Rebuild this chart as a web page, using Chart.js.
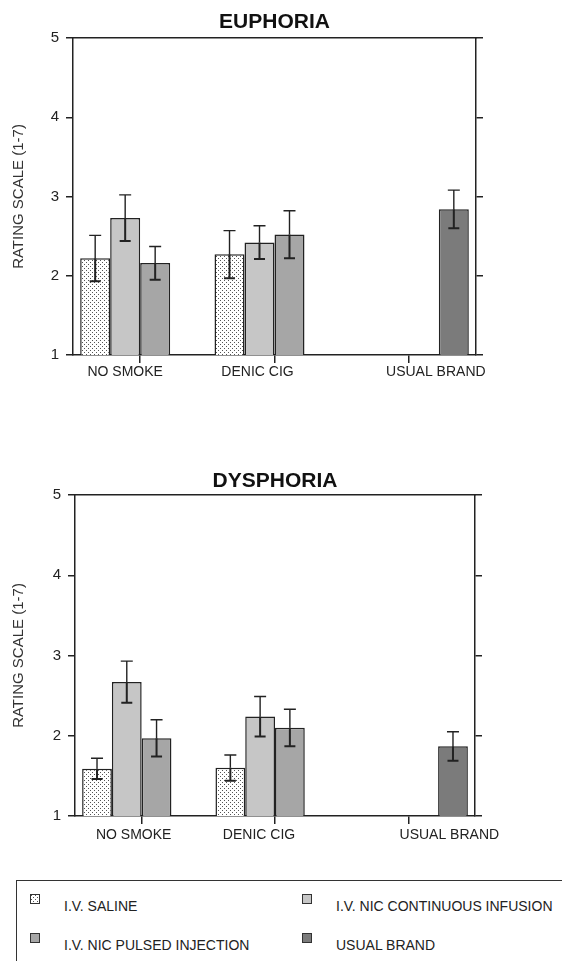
<!DOCTYPE html>
<html>
<head>
<meta charset="utf-8">
<script src="https://cdn.jsdelivr.net/npm/chart.js@4.4.0/dist/chart.umd.min.js"></script>
<style>
  body {
    margin: 0;
    background: #fff;
    width: 562px;
    height: 961px;
    position: relative;
    overflow: hidden;
    font-family: "Liberation Sans", Arial, sans-serif;
  }
  .panel { position: absolute; left: 0; width: 562px; height: 400px; }
  #legend {
    position: absolute;
    left: 16px;
    top: 880px;
    width: 600px;
    height: 120px;
    border-left: 1.5px solid #333;
    border-top: 1.5px solid #333;
  }
  .swatch {
    position: absolute;
    width: 8px;
    height: 8px;
    border: 1.5px solid #333;
  }
  .legend-text {
    position: absolute;
    font-size: 14px;
    color: #222;
    white-space: nowrap;
    line-height: 16px;
  }
</style>
</head>
<body>
<div class="panel" style="top:0"><canvas id="euphoriaChart" width="562" height="400"></canvas></div>
<div class="panel" style="top:460px"><canvas id="dysphoriaChart" width="562" height="400"></canvas></div>
<div id="legend"></div>

<script>
// ---- data ----
const categories = ['NO SMOKE', 'DENIC CIG', 'USUAL BRAND'];
const seriesNames = ['I.V. SALINE', 'I.V. NIC CONTINUOUS INFUSION', 'I.V. NIC PULSED INJECTION', 'USUAL BRAND'];
const yTicks = [1, 2, 3, 4, 5];

// euphoria means and SEM
const euphoriaSaline     = [2.22, 2.27, null];
const euphoriaContinuous = [2.73, 2.42, null];
const euphoriaPulsed     = [2.16, 2.52, null];
const euphoriaUsual      = [null, null, 2.84];
const euphoriaSalineErr     = [0.29, 0.30, null];
const euphoriaContinuousErr = [0.29, 0.21, null];
const euphoriaPulsedErr     = [0.21, 0.30, null];
const euphoriaUsualErr      = [null, null, 0.24];

// dysphoria means and SEM
const dysphoriaSaline     = [1.59, 1.60, null];
const dysphoriaContinuous = [2.67, 2.24, null];
const dysphoriaPulsed     = [1.97, 2.10, null];
const dysphoriaUsual      = [null, null, 1.87];
const dysphoriaSalineErr     = [0.13, 0.16, null];
const dysphoriaContinuousErr = [0.26, 0.25, null];
const dysphoriaPulsedErr     = [0.23, 0.23, null];
const dysphoriaUsualErr      = [null, null, 0.18];

// ---- styles ----
const INK = '#222';
const FONT = '"Liberation Sans", Arial, sans-serif';

// stippled fill for saline
const dotTile = document.createElement('canvas');
dotTile.width = 4;
dotTile.height = 4;
const dt = dotTile.getContext('2d');
dt.fillStyle = '#fff';
dt.fillRect(0, 0, 4, 4);
dt.fillStyle = '#555';
dt.fillRect(0, 0, 1, 1);
dt.fillRect(2, 2, 1, 1);

function seriesFills(ctx) {
    return [ctx.createPattern(dotTile, 'repeat'), '#c6c6c6', '#a6a6a6', '#7b7b7b'];
}

// draws mean +/- SEM: thin T above the bar, bold inverted T inside it
const errorBarPlugin = {
    id: 'errorBars',
    afterDatasetsDraw(chart) {
        const ctx = chart.ctx;
        const y = chart.scales.y;
        ctx.save();
        ctx.strokeStyle = INK;
        chart.data.datasets.forEach((ds, di) => {
            const meta = chart.getDatasetMeta(di);
            meta.data.forEach((bar, i) => {
                const v = ds.data[i];
                const e = ds.errors[i];
                if (v == null || e == null) return;
                const x = bar.x;
                const yMid = y.getPixelForValue(v);
                const yHi = y.getPixelForValue(v + e);
                const yLo = y.getPixelForValue(v - e);

                ctx.lineWidth = 1.4;
                ctx.beginPath();
                ctx.moveTo(x, yMid);
                ctx.lineTo(x, yHi);
                ctx.moveTo(x - 6, yHi);
                ctx.lineTo(x + 6, yHi);
                ctx.stroke();

                ctx.lineWidth = 2;
                ctx.beginPath();
                ctx.moveTo(x, yMid);
                ctx.lineTo(x, yLo);
                ctx.moveTo(x - 5.5, yLo);
                ctx.lineTo(x + 5.5, yLo);
                ctx.stroke();
            });
        });
        ctx.restore();
    }
};

// category names sit a little off their tick marks in the original
const categoryLabelPlugin = {
    id: 'categoryLabels',
    afterDraw(chart, args, opts) {
        const ctx = chart.ctx;
        const x = chart.scales.x;
        ctx.save();
        ctx.font = '14px ' + FONT;
        ctx.fillStyle = INK;
        ctx.textAlign = 'center';
        ctx.textBaseline = 'middle';
        categories.forEach((label, i) => {
            ctx.fillText(label, x.getPixelForValue(i) + opts.shift[i], chart.chartArea.bottom + opts.dy);
        });
        ctx.restore();
    }
};

function makeChart(canvasId, title, values, errors, box) {
    const canvas = document.getElementById(canvasId);
    const ctx = canvas.getContext('2d');
    const fills = seriesFills(ctx);

    const datasets = seriesNames.map((name, i) => ({
        label: name,
        data: values[i],
        errors: errors[i],
        backgroundColor: fills[i],
        borderColor: INK,
        borderWidth: 1.5,
        borderSkipped: false,
        categoryPercentage: 0.893,
        barPercentage: 1.0
    }));

    const axisLine = { display: true, color: INK, width: 1.5 };

    return new Chart(ctx, {
        type: 'bar',
        data: { labels: categories, datasets: datasets },
        options: {
            responsive: false,
            animation: false,
            layout: { padding: 0 },
            plugins: {
                legend: { display: false },
                tooltip: { enabled: false },
                title: {
                    display: true,
                    text: title,
                    fullSize: false,
                    color: '#111',
                    font: { family: FONT, size: 21, weight: 'bold' },
                    padding: { top: box.titleTop, bottom: box.top - 25.2 - box.titleTop }
                },
                categoryLabels: { shift: box.labelShift, dy: box.labelDy }
            },
            scales: {
                x: {
                    offset: true,
                    grid: {
                        display: true,
                        drawOnChartArea: false,
                        drawTicks: true,
                        tickLength: 8,
                        offset: false,
                        color: INK,
                        lineWidth: 1.5
                    },
                    border: axisLine,
                    ticks: { display: false },
                    afterFit(s) { s.height = 400 - box.bottom; }
                },
                x2: {
                    axis: 'x',
                    position: 'top',
                    offset: true,
                    grid: { display: false },
                    border: axisLine,
                    ticks: { display: false },
                    afterFit(s) { s.height = 0; }
                },
                y: {
                    position: 'left',
                    min: yTicks[0],
                    max: yTicks[yTicks.length - 1],
                    afterBuildTicks(s) { s.ticks = yTicks.map(v => ({ value: v })); },
                    grid: {
                        drawOnChartArea: false,
                        drawTicks: true,
                        tickLength: 7,
                        color: INK,
                        lineWidth: 1.5
                    },
                    border: axisLine,
                    ticks: {
                        color: INK,
                        padding: 7,
                        font: { family: FONT, size: 15 }
                    },
                    title: {
                        display: true,
                        text: 'RATING SCALE (1-7)',
                        color: '#333',
                        font: { family: FONT, size: 15 },
                        padding: { top: 10, bottom: 0 }
                    },
                    afterFit(s) { s.width = box.left; }
                },
                y2: {
                    type: 'linear',
                    position: 'right',
                    min: yTicks[0],
                    max: yTicks[yTicks.length - 1],
                    afterBuildTicks(s) { s.ticks = yTicks.map(v => ({ value: v })); },
                    grid: {
                        drawOnChartArea: false,
                        drawTicks: true,
                        tickLength: 7,
                        color: INK,
                        lineWidth: 1.5
                    },
                    border: axisLine,
                    ticks: { display: false },
                    afterFit(s) { s.width = 562 - box.right; }
                }
            }
        },
        plugins: [errorBarPlugin, categoryLabelPlugin]
    });
}

makeChart('euphoriaChart', 'EUPHORIA',
    [euphoriaSaline, euphoriaContinuous, euphoriaPulsed, euphoriaUsual],
    [euphoriaSalineErr, euphoriaContinuousErr, euphoriaPulsedErr, euphoriaUsualErr],
    { left: 73, right: 476, top: 38, bottom: 355, titleTop: 10, labelShift: [-15, -17, 27], labelDy: 17 });

makeChart('dysphoriaChart', 'DYSPHORIA',
    [dysphoriaSaline, dysphoriaContinuous, dysphoriaPulsed, dysphoriaUsual],
    [dysphoriaSalineErr, dysphoriaContinuousErr, dysphoriaPulsedErr, dysphoriaUsualErr],
    { left: 75, right: 475, top: 35, bottom: 356, titleTop: 9, labelShift: [-8, -16, 41], labelDy: 19 });

// ---- legend ----
const legend = document.getElementById('legend');
const legendFills = ['url(' + dotTile.toDataURL() + ')', '#c6c6c6', '#a6a6a6', '#7b7b7b'];
const legendCol = [13, 285];
const legendRow = [13, 52];
seriesNames.forEach((name, i) => {
    const col = legendCol[i % 2];
    const row = legendRow[Math.floor(i / 2)];
    const sw = document.createElement('div');
    sw.className = 'swatch';
    sw.style.left = col + 'px';
    sw.style.top = row + 'px';
    sw.style.background = legendFills[i];
    legend.appendChild(sw);
    const tx = document.createElement('div');
    tx.className = 'legend-text';
    tx.style.left = (col + 34) + 'px';
    tx.style.top = (row + 4) + 'px';
    tx.textContent = name;
    legend.appendChild(tx);
});
</script>
</body>
</html>
